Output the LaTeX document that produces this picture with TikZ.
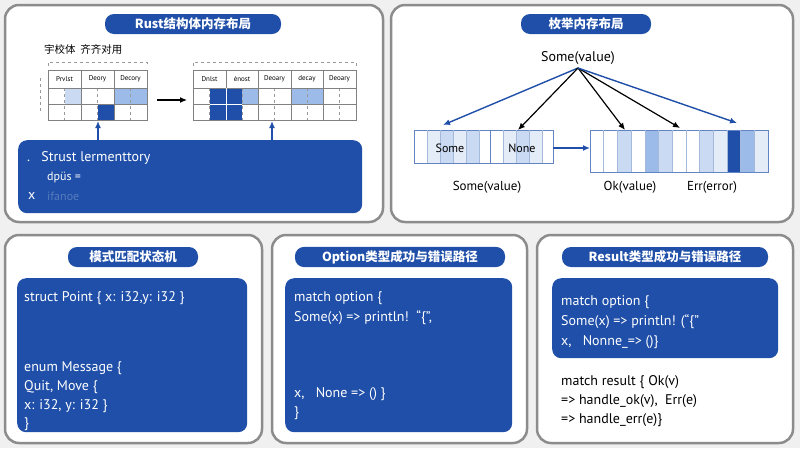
\documentclass[tikz,border=0pt]{standalone}
\usepackage{fontspec}
\setmainfont{PT Sans}
\newfontfamily\cjk{Noto Sans CJK SC}
\usetikzlibrary{arrows.meta}
\definecolor{db}{HTML}{1F4FA8}
\definecolor{lb}{HTML}{C9DAF2}
\definecolor{mb}{HTML}{9DBBE8}
\definecolor{pb}{HTML}{E4ECF8}
\tikzset{
 panel/.style={draw=black!45,line width=2.5pt,fill=white,rounded corners=14pt},
 pill/.style={fill=db,text=white,rounded corners=9pt,minimum height=20pt,inner xsep=8pt,font=\cjk\bfseries\fontsize{12.5}{14}\selectfont},
 code/.style={fill=db,rounded corners=9pt,draw=none},
 ct/.style={anchor=west,text=white,font=\fontsize{14}{16}\selectfont,inner sep=0},
 bt/.style={anchor=west,text=black,font=\fontsize{14}{16}\selectfont,inner sep=0},
 hd/.style={font=\fontsize{7}{8}\selectfont,inner sep=0},
 grid/.style={draw=black!50,line width=0.5pt},
 dsh/.style={draw=black!40,dashed,line width=0.4pt},
 ba/.style={-{Latex[length=7pt,width=6pt]},line width=1.4pt,draw=db},
 ka/.style={-{Latex[length=7pt,width=6pt]},line width=1.2pt,draw=black},
}
\begin{document}
\begin{tikzpicture}[x=1pt,y=-1pt]
\useasboundingbox (0,0) rectangle (800,448);
\fill[black!6] (0,0) rectangle (800,448);
% panels
\draw[panel] (5,5) rectangle (383,222);
\draw[panel] (391,5) rectangle (793,222);
\draw[panel] (5,235) rectangle (262,443);
\draw[panel] (272,235) rectangle (527,443);
\draw[panel] (537,235) rectangle (793,443);
% titles
\node[pill,minimum width=176pt] (t1) at (193,24) {Rust结构体内存布局};
\node[pill,minimum width=130pt] (t2) at (586,24) {枚举内存布局};
\node[pill,minimum width=130pt] (t3) at (133,257) {模式匹配状态机};
\node[pill,minimum width=210pt] (t4) at (400,257) {Option类型成功与错误路径};
\node[pill,minimum width=206pt] (t5) at (665,257) {Result类型成功与错误路径};
% ---- panel 1
\node[anchor=west,font=\cjk\fontsize{10.5}{12}\selectfont,inner sep=0] (sub) at (44,50) {宇校体\ \ 齐齐对用};
\draw[dsh] (48,66) -- (48,62) -- (147,62) -- (147,66);
\draw[dsh] (193,66) -- (193,62) -- (356,62) -- (356,66);
\draw[dsh] (40,78) -- (40,112);
% table 1 fills
\fill[lb] (65,88) rectangle (81,104);
\fill[mb] (114,88) rectangle (147,104);
\fill[db] (98,104) rectangle (114,120);
\foreach \x in {64.5,97.5,130.5} \draw[dsh] (\x,88) -- (\x,120);
\draw[grid] (48,70) rectangle (147,120);
\foreach \x in {81,114} \draw[grid] (\x,70) -- (\x,120);
\draw[grid] (48,88) -- (147,88) (48,104) -- (147,104);
\node[hd] (h11) at (64.5,79) {Prvlst};
\node[hd] (h12) at (97.5,79) {Deory};
\node[hd] (h13) at (130.5,79) {Decory};
% table 2
\fill[db] (210,88) rectangle (242,120);
\fill[mb] (242,88) rectangle (258,104);
\fill[mb] (291,88) rectangle (323,104);
\foreach \x in {209.5,242,274.5,307,339.5} \draw[dsh] (\x,88) -- (\x,120);
\draw[grid] (193,70) rectangle (356,120);
\foreach \x in {226,258,291,323} \draw[grid] (\x,70) -- (\x,120);
\draw[grid] (193,88) -- (356,88) (193,104) -- (356,104);
\draw[draw=white,line width=0.6pt] (226,88) -- (226,120) (210,104) -- (242,104);
\node[hd] (h21) at (209.5,79) {Dnlst};
\node[hd] (h22) at (242,79) {ėnost};
\node[hd] (h23) at (274.5,79) {Deoary};
\node[hd] (h24) at (307,79) {decay};
\node[hd] (h25) at (339.5,79) {Deoary};
\coordinate (tb1) at (147,100);
\coordinate (tb2) at (193,100);
\draw[ka] (157,100) -- (187,100);
% code box 1
\node[code,minimum width=344pt,minimum height=73pt,anchor=north west] (c1) at (18,140) {};
\draw[ba] (98,140) -- (98,121);
\draw[ba] (272,140) -- (272,121);
\node[ct] (l11) at (27,158) {.\ \ \ Strust lermenttory};
\node[ct,font=\fontsize{12}{14}\selectfont] (l12) at (47,177) {dpüs =};
\node[ct] (l13) at (28,196) {x};
\node[ct,text=white!25!db,font=\fontsize{12}{14}\selectfont] (l14) at (47,196) {ifanoe};
% ---- panel 2
\node[font=\fontsize{14}{16}\selectfont,inner sep=1pt] (sv) at (578,58) {Some(value)};
\coordinate (o) at (578,68);
% left bar
\foreach \x/\c in {427/pb,440/lb,453/pb,466/lb,503/pb,516/lb,529/pb} \fill[\c] (\x,130) rectangle ++(13,33);
\draw[grid,draw=db!70] (414,130) rectangle (553,163);
\foreach \x in {427,440,453,466,479,490,503,516,529,542} \draw[draw=db!40,line width=0.5pt] (\x,130) -- (\x,163);
\draw[draw=db!70,line width=0.8pt] (490,130) -- (490,163);
\node[font=\fontsize{12}{14}\selectfont,inner sep=0] (so) at (450,148) {Some};
\node[font=\fontsize{12}{14}\selectfont,inner sep=0] (no) at (522,148) {None};
% right bar
\foreach \i/\c in {2/lb,4/mb,5/lb,8/lb,9/pb,10/db,11/mb,12/pb} \fill[\c] ({590+13.7*\i},130) rectangle ++(13.7,42);
\draw[grid,draw=db!70] (590,130) rectangle (768,172);
\foreach \i in {1,...,12} \draw[draw=db!40,line width=0.5pt] ({590+13.7*\i},130) -- ({590+13.7*\i},172);
\coordinate (lb1) at (553,148);
\coordinate (rb1) at (590,148);
\draw[ba] (lb1) -- (rb1);
\draw[ba] (o) -- (443,125);
\draw[ka] (o) -- (518,130);
\draw[ka] (o) -- (625,130);
\draw[ka] (o) -- (680,128);
\draw[ba] (o) -- (737,123);
\node[font=\fontsize{13}{15}\selectfont,inner sep=0] (la1) at (487,187) {Some(value)};
\node[font=\fontsize{13}{15}\selectfont,inner sep=0] (la2) at (630,187) {Ok(value)};
\node[font=\fontsize{13}{15}\selectfont,inner sep=0] (la3) at (712,187) {Err(error)};
% ---- panel 3
\node[code,minimum width=230pt,minimum height=154pt,anchor=north west] (c3) at (17,278) {};
\node[ct] (p31) at (24,298) {struct Point \{ x: i32,y: i32 \}};
\node[ct] (p32) at (24,368) {enum Message \{};
\node[ct] (p33) at (24,387) {Quit, Move \{};
\node[ct] (p34) at (24,406) {x: i32, y: i32 \}};
\node[ct] (p35) at (24,424) {\}};
% ---- panel 4
\node[code,minimum width=227pt,minimum height=154pt,anchor=north west] (c4) at (285,278) {};
\node[ct] (p41) at (294,298) {match option \{};
\node[ct] (p42) at (294,318) {Some(x) => println!\ \ “\{”,};
\node[ct] (p43) at (294,394) {x,\ \ \ None => () \}};
\node[ct] (p44) at (294,413) {\}};
% ---- panel 5
\node[code,minimum width=226pt,minimum height=80pt,anchor=north west] (c5) at (552,278) {};
\node[ct] (p51) at (561,302) {match option \{};
\node[ct] (p52) at (561,322) {Some(x) => println! (“\{"};
\node[ct] (p53) at (561,342) {x,\ \ \ Nonne\_=> ()\}};
\node[bt] (p54) at (561,382) {match result \{ Ok(v)};
\node[bt] (p55) at (561,401) {=> handle\_ok(v),\ \ Err(e)};
\node[bt] (p56) at (561,420) {=> handle\_err(e)\}};
\end{tikzpicture}
\end{document}
